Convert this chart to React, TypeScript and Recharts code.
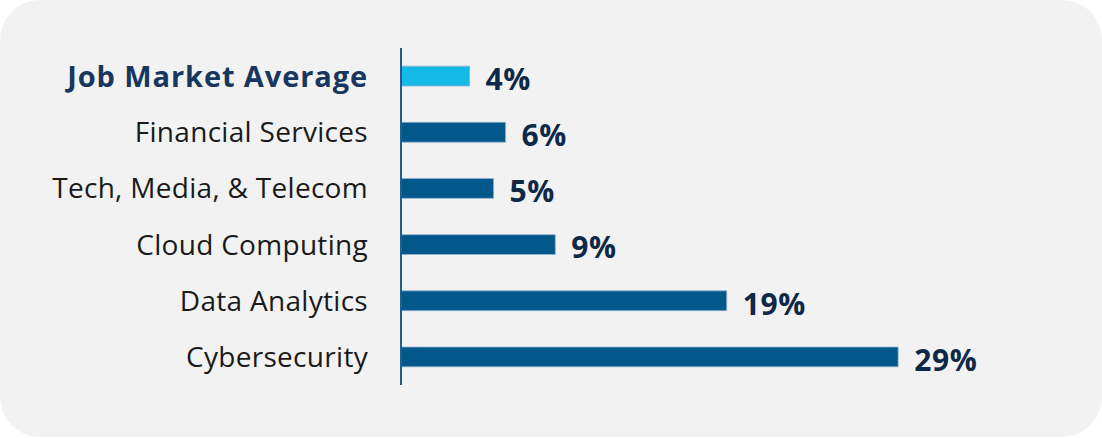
import { Bar, BarChart, Cell, LabelList, XAxis, YAxis } from 'recharts';

const categories = [
  'Job Market Average',
  'Financial Services',
  'Tech, Media, & Telecom',
  'Cloud Computing',
  'Data Analytics',
  'Cybersecurity',
];
const growth = [4.0, 6.1, 5.4, 9.0, 19.0, 29.0];
const labels = ['4%', '6%', '5%', '9%', '19%', '29%'];

const FONT = '"Open Sans", "Noto Sans", sans-serif';
const DARK = '#02578b';
const LIGHT = '#14b9e6';

const data = categories.map((category, i) => ({ category, value: growth[i], label: labels[i] }));

// eslint-disable-next-line @typescript-eslint/no-explicit-any
function CategoryTick({ x, y, payload, index }: any) {
  const highlight = index === 0;
  return (
    <text
      x={x}
      y={y}
      dy="0.36em"
      textAnchor="end"
      fontFamily={FONT}
      fontSize={highlight ? 29 : 28}
      fontWeight={highlight ? 700 : 400}
      letterSpacing={highlight ? 0.9 : 0.3}
      fill={highlight ? '#17375e' : '#1a1a1a'}
    >
      {payload.value}
    </text>
  );
}

// eslint-disable-next-line @typescript-eslint/no-explicit-any
function ValueLabel({ x, y, width, height, index }: any) {
  return (
    <text
      x={x + width + 16}
      y={y + height / 2 + 3}
      dy="0.36em"
      fontFamily={FONT}
      fontSize={30}
      fontWeight={700}
      letterSpacing={0.6}
      fill="#0f2847"
    >
      {labels[index]}
    </text>
  );
}

export default function App() {
  return (
    <div style={{ position: 'absolute', left: 0, top: 0, width: 1102, height: 438, background: '#fff' }}>
      <div style={{ position: 'absolute', left: 0, top: 0, width: 1102, height: 437, background: '#f2f2f2', borderRadius: 40 }} />
      <div style={{ position: 'absolute', left: 0, top: 0 }}>
        <BarChart
          layout="vertical"
          width={1102}
          height={438}
          data={data}
          margin={{ top: 48, right: 101, bottom: 53, left: 0 }}
          barCategoryGap={38}
        >
          <XAxis type="number" domain={[0, 35]} hide />
          <YAxis
            type="category"
            dataKey="category"
            width={401}
            axisLine={{ stroke: '#1f5f8f', strokeWidth: 2 }}
            tickLine={false}
            tickSize={0}
            tickMargin={33}
            tick={<CategoryTick />}
            interval={0}
          />
          <Bar dataKey="value" isAnimationActive={false} stroke="#8fb2cf" strokeWidth={0.8}>
            {data.map((_, i) => (
              <Cell key={i} fill={i === 0 ? LIGHT : DARK} />
            ))}
            <LabelList dataKey="label" content={<ValueLabel />} />
          </Bar>
        </BarChart>
      </div>
    </div>
  );
}
